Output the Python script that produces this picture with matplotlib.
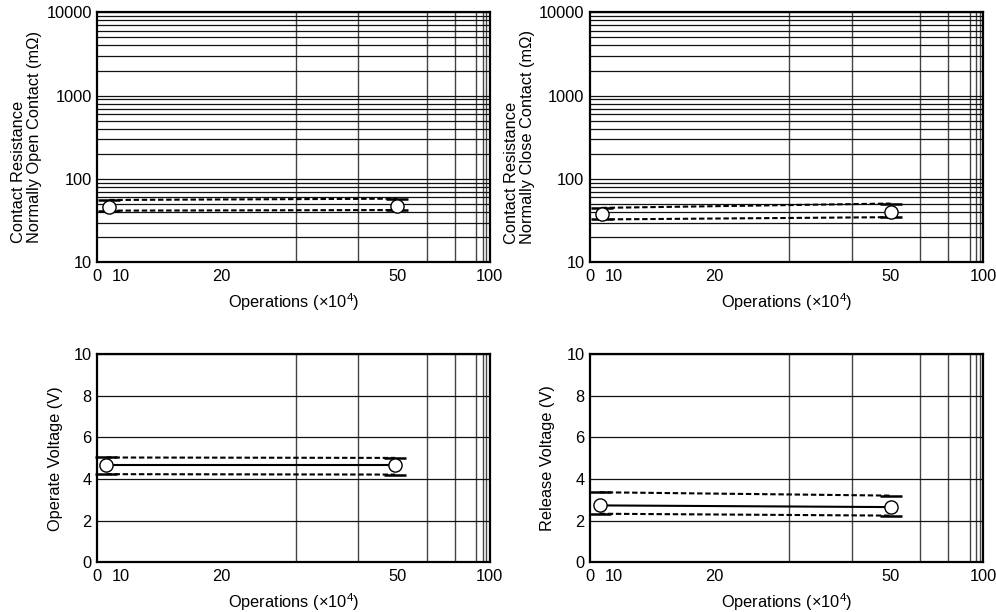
import numpy as np
import matplotlib
matplotlib.use('Agg')
import matplotlib.pyplot as plt
from matplotlib.ticker import FixedLocator, FixedFormatter, LogLocator, NullFormatter

plt.rcParams['font.family'] = ['Liberation Sans', 'DejaVu Sans']
plt.rcParams['font.size'] = 11.8
plt.rcParams['mathtext.fontset'] = 'custom'
plt.rcParams['mathtext.rm'] = 'Liberation Sans'
plt.rcParams['mathtext.default'] = 'rm'

# printed x axis of the datasheet is not a clean log scale:
# value -> fraction of axis width
scale_vals = [0, 10, 20, 30, 40, 50, 60, 70, 80, 90, 95, 100]
scale_frac = [0, 0.061, 0.316, 0.507, 0.665, 0.764, 0.840, 0.911, 0.966, 0.982, 0.991, 1.0]
x_ticks = [0, 10, 20, 50, 100]
x_grid = [10, 20, 30, 40, 50, 60, 70, 80, 90, 95]

# contact resistance, normally open (mOhm)
no_x = [5, 50]
no_avg = [46, 48]
no_max = [56, 58]
no_min = [41.7, 42.4]

# contact resistance, normally close (mOhm)
nc_x = [4.8, 50]
nc_avg = [37.6, 40.5]
nc_max = [45, 50.7]
nc_min = [32.7, 34.8]

# operate voltage (V)
op_x = [3.8, 49.5]
op_avg = [4.67, 4.67]
op_max = [5.04, 5.02]
op_min = [4.24, 4.22]

# release voltage (V)
rel_x = [4, 50]
rel_avg = [2.74, 2.66]
rel_max = [3.37, 3.21]
rel_min = [2.34, 2.25]


def fwd(x):
    return np.interp(x, scale_vals, scale_frac)


def inv(f):
    return np.interp(f, scale_frac, scale_vals)


def setup(ax, logy):
    ax.set_xscale('function', functions=(fwd, inv))
    ax.set_xlim(0, 100)
    ax.xaxis.set_major_locator(FixedLocator(x_ticks))
    ax.xaxis.set_major_formatter(FixedFormatter([str(v) for v in x_ticks]))
    ax.xaxis.set_minor_locator(FixedLocator(x_grid))
    ax.xaxis.set_minor_formatter(NullFormatter())
    if logy:
        ax.set_yscale('log')
        ax.set_ylim(10, 10000)
        ax.yaxis.set_major_locator(FixedLocator([10, 100, 1000, 10000]))
        ax.yaxis.set_major_formatter(FixedFormatter(['10', '100', '1000', '10000']))
        ax.yaxis.set_minor_locator(LogLocator(subs=range(2, 10)))
        ax.yaxis.set_minor_formatter(NullFormatter())
        ax.grid(True, axis='y', which='both', color='#111111', lw=0.9)
    else:
        ax.set_ylim(0, 10)
        ax.set_yticks([0, 2, 4, 6, 8, 10])
        ax.grid(True, axis='y', which='major', color='#111111', lw=0.9)
    ax.grid(True, axis='x', which='minor', color='#444444', lw=1.0)
    ax.tick_params(which='both', length=0)
    ax.tick_params(axis='x', pad=5)
    ax.tick_params(axis='y', pad=4)
    for sp in ax.spines.values():
        sp.set_linewidth(1.6)
    ax.set_axisbelow(True)
    ax.set_xlabel('Operations (×10$^{4}$)', labelpad=5)


def draw(ax, x, avg, ymax, ymin, mean_line):
    dash = (0, (2.6, 1.3))
    ax.plot(x, ymax, color='k', lw=1.5, ls=dash)
    ax.plot(x, ymin, color='k', lw=1.5, ls=dash)
    if mean_line:
        ax.plot(x, avg, color='k', lw=1.5)
    ax.plot(x, ymax, ls='none', marker='_', ms=16, mew=1.8, color='k', clip_on=False)
    ax.plot(x, ymin, ls='none', marker='_', ms=16, mew=1.8, color='k', clip_on=False)
    ax.plot(x, avg, ls='none', marker='o', ms=9.5, mfc='white', mec='k', mew=1.0,
            zorder=5, clip_on=False)


fig = plt.figure(figsize=(9.96, 6.12), dpi=100)
ax1 = fig.add_axes([0.0977, 0.5714, 0.394, 0.4085])
ax2 = fig.add_axes([0.5924, 0.5714, 0.3949, 0.4085])
ax3 = fig.add_axes([0.0977, 0.0809, 0.394, 0.3404])
ax4 = fig.add_axes([0.5924, 0.0809, 0.3949, 0.3404])

setup(ax1, True)
setup(ax2, True)
setup(ax3, False)
setup(ax4, False)

draw(ax1, no_x, no_avg, no_max, no_min, False)
draw(ax2, nc_x, nc_avg, nc_max, nc_min, False)
draw(ax3, op_x, op_avg, op_max, op_min, True)
draw(ax4, rel_x, rel_avg, rel_max, rel_min, True)

ax1.set_ylabel('Contact Resistance\nNormally Open Contact (mΩ)', multialignment='left',
               linespacing=1.1, labelpad=3)
ax2.set_ylabel('Contact Resistance\nNormally Close Contact (mΩ)', multialignment='left',
               linespacing=1.1, labelpad=3)
ax3.set_ylabel('Operate Voltage (V)', labelpad=8)
ax4.set_ylabel('Release Voltage (V)', labelpad=8)

fig.savefig('out.png', dpi=100)
